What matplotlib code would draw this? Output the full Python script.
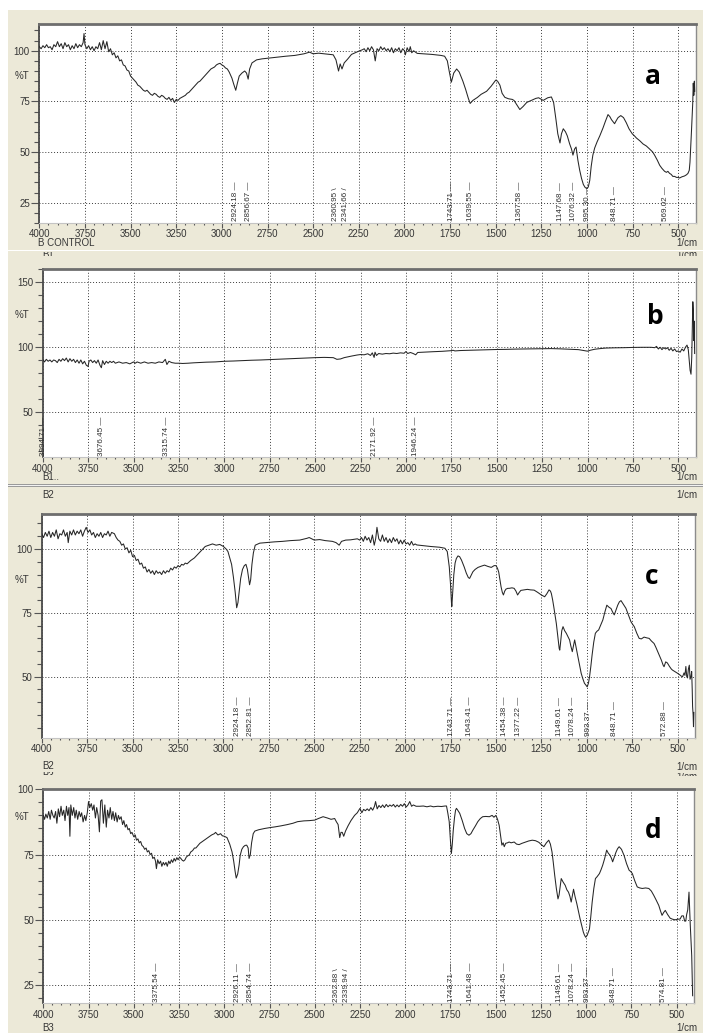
import matplotlib
matplotlib.use("Agg")
import matplotlib.pyplot as plt
from matplotlib.patches import Rectangle
from matplotlib.transforms import Bbox, TransformedBbox
from matplotlib.ticker import MultipleLocator, FixedLocator
import numpy as np

# ---------------- data (wavenumber 1/cm, %T) ----------------
spectrum_a = [
    (4000, 102), (3990, 101), (3980, 102.5), (3970, 101.5), (3960, 103), (3950, 101.5), (3940, 102),
    (3930, 100.5), (3920, 103), (3910, 102), (3900, 104.5), (3890, 102), (3880, 103.5), (3870, 101),
    (3860, 104), (3850, 102), (3840, 103), (3830, 100.5), (3820, 102.5), (3810, 101), (3800, 103.5),
    (3790, 101.5), (3780, 103), (3770, 102), (3760, 104), (3755, 108.5), (3750, 103), (3740, 101),
    (3730, 102.5), (3720, 100.5), (3710, 102), (3700, 100), (3690, 102), (3680, 101), (3670, 104),
    (3660, 100.5), (3650, 105), (3640, 101), (3630, 104.5), (3620, 99.5), (3610, 101), (3600, 98),
    (3590, 99), (3580, 96.5), (3570, 97.5), (3560, 95), (3550, 95.5), (3540, 93), (3530, 92.5),
    (3520, 90.5), (3510, 90), (3500, 87.5), (3490, 86.5), (3480, 85.5), (3470, 84.5), (3460, 83),
    (3450, 82.5), (3440, 81.5), (3430, 80.5), (3420, 80), (3410, 80.5), (3400, 79.5), (3390, 78.5),
    (3380, 78), (3370, 79), (3360, 78.5), (3350, 77.5), (3340, 77), (3330, 78), (3320, 77.5),
    (3310, 76.5), (3300, 76), (3290, 77), (3280, 75.5), (3270, 76.5), (3260, 74.5), (3250, 76),
    (3240, 75.5), (3230, 76.5), (3220, 77), (3210, 77.5), (3200, 78), (3190, 79), (3180, 79.5),
    (3170, 80.5), (3160, 81.5), (3150, 82.5), (3140, 83.5), (3130, 84.5), (3120, 85), (3110, 86),
    (3100, 87), (3090, 88), (3080, 89), (3070, 90), (3060, 91), (3050, 91.5), (3040, 92), (3030, 93),
    (3020, 93.5), (3010, 93.8), (3000, 93), (2990, 92.5), (2980, 91.5), (2970, 91), (2960, 89.5),
    (2945, 86.5), (2935, 83.5), (2924, 80.5), (2915, 84), (2905, 87.5), (2890, 89), (2875, 90),
    (2865, 89), (2856, 86), (2848, 91), (2835, 94), (2810, 95.5), (2780, 96), (2750, 96.3),
    (2700, 96.8), (2650, 97.3), (2600, 97.7), (2550, 98.5), (2520, 99.3), (2500, 98.5), (2470, 98.8),
    (2440, 98.5), (2410, 98.2), (2390, 98), (2375, 95.5), (2361, 90), (2352, 93.5), (2342, 91),
    (2330, 94), (2310, 96), (2290, 98.2), (2270, 99), (2250, 99.8), (2230, 100.5), (2220, 101),
    (2210, 99.5), (2200, 101.5), (2190, 100), (2180, 102), (2170, 100.5), (2160, 95), (2150, 101),
    (2140, 100), (2130, 102), (2120, 100.5), (2110, 101.5), (2100, 100), (2090, 101), (2080, 99.5),
    (2070, 101.5), (2060, 99), (2050, 101), (2040, 100), (2030, 101.5), (2020, 99), (2010, 101),
    (2000, 100), (1995, 98), (1985, 101.5), (1975, 99.5), (1968, 102), (1960, 99), (1950, 100),
    (1930, 98.7), (1900, 98.5), (1850, 98.2), (1800, 97.7), (1780, 97.3), (1765, 95), (1755, 90),
    (1743, 84.5), (1730, 89), (1714, 91), (1700, 89.5), (1680, 85), (1665, 81), (1650, 76.5),
    (1640, 74), (1625, 75.5), (1600, 77), (1580, 78.5), (1550, 80), (1525, 82.5), (1500, 85.5),
    (1490, 85), (1477, 83), (1465, 79), (1450, 77), (1430, 76.3), (1410, 76), (1400, 75.5),
    (1386, 73.5), (1368, 71), (1350, 72.5), (1330, 74.5), (1305, 75.5), (1280, 76.5), (1265, 76.8),
    (1240, 75.5), (1215, 76.8), (1195, 77.2), (1183, 74.5), (1170, 66), (1160, 59), (1148, 54.5),
    (1140, 59), (1130, 61.5), (1118, 60), (1108, 58), (1095, 54), (1085, 51.5), (1077, 48.5),
    (1068, 51.5), (1060, 52.5), (1050, 46), (1040, 41), (1030, 37), (1020, 34), (1010, 32.5),
    (1000, 32), (993, 32.8), (985, 36), (977, 43), (968, 48.5), (958, 52), (945, 55), (930, 58),
    (912, 62), (900, 65), (885, 68.5), (875, 67.5), (866, 66), (849, 64), (840, 65.5), (830, 67),
    (815, 68), (800, 67), (785, 64.5), (770, 61.5), (752, 59), (740, 58), (730, 57), (710, 55.5),
    (693, 54), (675, 53), (657, 51.5), (640, 50), (630, 48.5), (615, 46), (602, 43.5), (590, 42),
    (575, 40.5), (565, 40), (557, 40.5), (548, 39.5), (539, 39), (530, 38), (520, 38), (510, 37.5),
    (500, 37.5), (493, 37.2), (480, 37.8), (466, 38.2), (455, 38.8), (447, 39.5), (440, 41),
    (436, 45), (432, 52), (428, 60), (424, 68), (421, 74), (418, 84), (415, 78), (412, 85), (410, 80),
]

spectrum_b = [
    (4000, 90.5), (3990, 88.5), (3980, 90.5), (3970, 89), (3960, 90), (3950, 88.5), (3940, 90),
    (3930, 89.5), (3920, 88), (3910, 90.5), (3900, 89), (3890, 91), (3880, 89.5), (3870, 91.5),
    (3860, 88.5), (3850, 91), (3840, 89), (3830, 90.5), (3820, 88), (3810, 90), (3800, 87.5),
    (3790, 90), (3780, 87), (3770, 89), (3760, 86), (3750, 85), (3745, 89), (3735, 90), (3725, 88),
    (3715, 89.5), (3705, 87.5), (3695, 90), (3685, 86), (3677, 84), (3670, 89.5), (3660, 86.5),
    (3650, 89), (3640, 87.5), (3630, 89), (3620, 88), (3610, 89), (3600, 87.5), (3580, 88.5),
    (3560, 87.5), (3540, 88), (3520, 87), (3500, 88.5), (3490, 87.5), (3480, 88.5), (3460, 87.5),
    (3440, 88.5), (3420, 87.5), (3400, 88), (3380, 87.5), (3360, 88.5), (3340, 88), (3325, 90.5),
    (3316, 86.5), (3305, 89), (3290, 88), (3270, 87.5), (3250, 87.5), (3230, 87.3), (3200, 87.5),
    (3170, 87.8), (3140, 88), (3100, 88.3), (3050, 88.5), (3000, 89), (2950, 89.2), (2900, 89.5),
    (2850, 89.8), (2800, 90), (2750, 90.3), (2700, 90.6), (2650, 90.9), (2600, 91.2), (2550, 91.5),
    (2500, 91.8), (2450, 92), (2400, 91.8), (2380, 90.5), (2360, 90.8), (2340, 91.8), (2300, 93),
    (2270, 93.8), (2250, 94.2), (2230, 94), (2210, 94.8), (2195, 93.5), (2185, 95.5), (2175, 92),
    (2170, 96), (2162, 93.5), (2150, 95), (2130, 94.5), (2110, 95), (2090, 94.8), (2070, 95.3),
    (2050, 95), (2030, 95.5), (2010, 95.2), (2000, 96.5), (1990, 95), (1975, 95.8), (1960, 95),
    (1946, 94), (1935, 95.8), (1910, 96), (1880, 96.2), (1850, 96.4), (1800, 96.7), (1750, 97.2),
    (1740, 97.5), (1730, 97), (1700, 97.3), (1650, 97.5), (1600, 97.7), (1550, 97.9), (1500, 98.1),
    (1450, 98.2), (1400, 98.4), (1350, 98.5), (1300, 98.6), (1250, 98.7), (1200, 98.8), (1150, 98.6),
    (1100, 98.3), (1050, 98), (1020, 97.3), (1000, 96.8), (985, 97.5), (960, 98.3), (930, 98.8),
    (900, 99.2), (850, 99.4), (800, 99.5), (750, 99.7), (700, 99.8), (650, 99.8), (630, 99.5),
    (620, 100.5), (610, 98.5), (600, 99.8), (590, 98), (580, 99.5), (570, 98.5), (560, 99.5),
    (550, 97.5), (540, 99), (530, 97), (520, 98.5), (510, 96.5), (500, 97), (490, 96), (480, 98.5),
    (470, 97), (460, 100), (452, 101.5), (445, 98), (440, 90), (435, 82), (430, 79), (426, 92),
    (422, 120), (420, 135), (417, 128), (415, 105), (412, 120), (410, 95),
]

spectrum_c = [
    (4000, 106), (3990, 104.5), (3980, 106.5), (3970, 105), (3960, 107), (3950, 104.5), (3940, 106.5),
    (3930, 105), (3920, 107.5), (3910, 104), (3900, 106), (3890, 105.5), (3880, 107.5), (3870, 105),
    (3860, 106.5), (3854, 102.5), (3845, 107), (3835, 105.5), (3825, 107.5), (3815, 105.5),
    (3805, 107), (3795, 106), (3785, 107.5), (3775, 105), (3765, 107), (3755, 108.5), (3745, 106.5),
    (3735, 107.5), (3725, 105.5), (3715, 106.5), (3705, 104.5), (3695, 106), (3685, 105),
    (3675, 106.5), (3665, 104.5), (3655, 106), (3645, 105.5), (3635, 107), (3625, 105),
    (3615, 106.5), (3600, 106), (3590, 104.5), (3580, 103.5), (3570, 103), (3560, 101.5),
    (3550, 102), (3540, 100), (3530, 100.5), (3520, 98.5), (3510, 99.5), (3500, 97), (3490, 97.5),
    (3480, 95.5), (3470, 96), (3460, 94), (3450, 94.5), (3440, 92.5), (3430, 93), (3420, 91),
    (3410, 92), (3400, 90.5), (3390, 91.5), (3380, 90), (3370, 91.5), (3360, 90.5), (3350, 91),
    (3340, 90), (3330, 91.5), (3320, 90.5), (3310, 91.5), (3300, 91), (3290, 92.5), (3280, 91.8),
    (3270, 93), (3260, 92.5), (3250, 93.5), (3240, 93), (3230, 94), (3220, 93.7), (3210, 94.5),
    (3200, 94.2), (3180, 95.5), (3160, 96.5), (3140, 98), (3120, 99.5), (3100, 101), (3080, 101.5),
    (3060, 102), (3040, 101.5), (3020, 101.8), (3000, 101), (2985, 100), (2975, 99), (2965, 96.5),
    (2955, 94), (2945, 89), (2935, 83), (2927, 77), (2920, 79), (2913, 83.5), (2905, 88.5),
    (2895, 92), (2885, 93.5), (2876, 94), (2868, 92), (2862, 89), (2856, 86), (2850, 88),
    (2843, 94), (2835, 98.5), (2825, 101.5), (2800, 102.3), (2770, 102.5), (2720, 102.8),
    (2675, 103), (2630, 103.3), (2580, 103.5), (2540, 104.2), (2528, 104.5), (2500, 103.5),
    (2470, 103.7), (2440, 103.3), (2400, 103), (2380, 102.5), (2363, 101.5), (2350, 103),
    (2327, 103.5), (2300, 103.6), (2280, 103.8), (2263, 104), (2250, 103.5), (2240, 104.5),
    (2230, 103), (2220, 105), (2210, 103.5), (2200, 104.5), (2190, 102.5), (2180, 105.5),
    (2170, 101.5), (2162, 104), (2155, 108.5), (2145, 104), (2135, 103), (2125, 105.5), (2115, 103),
    (2105, 104.5), (2095, 102.5), (2085, 104), (2075, 102.5), (2065, 104.5), (2055, 103), (2045, 104),
    (2035, 102), (2025, 103.5), (2015, 102), (2005, 103.5), (1995, 102), (1985, 102.5), (1975, 101.5),
    (1965, 103), (1955, 101.5), (1945, 102), (1936, 101.6), (1900, 101.3), (1860, 101), (1845, 100.9),
    (1810, 100.7), (1781, 100.3), (1768, 99), (1757, 93), (1750, 86), (1745, 79), (1743, 77.5),
    (1738, 83), (1732, 90), (1725, 94.5), (1718, 96.3), (1709, 97.3), (1700, 97), (1690, 95.7),
    (1675, 93), (1663, 90.5), (1652, 88.8), (1645, 88.5), (1635, 90), (1627, 91.1), (1615, 92),
    (1599, 92.8), (1580, 93.3), (1563, 93.7), (1545, 93.2), (1526, 92.8), (1510, 93.5), (1500, 93.5),
    (1492, 92.5), (1485, 91), (1478, 88), (1472, 85.2), (1465, 83), (1459, 82), (1452, 83.5),
    (1445, 84.3), (1435, 84.6), (1427, 84.6), (1412, 84.8), (1400, 84.6), (1390, 83.5), (1381, 82),
    (1372, 83), (1363, 83.8), (1345, 84), (1327, 84.2), (1310, 84), (1290, 83.9), (1270, 83),
    (1250, 82), (1232, 81.3), (1220, 82.5), (1208, 84), (1200, 83.5), (1195, 82.5), (1188, 80),
    (1182, 77.4), (1175, 74), (1168, 70.9), (1160, 66), (1152, 61), (1149, 60.4), (1145, 63),
    (1138, 68), (1131, 69.6), (1122, 68), (1113, 67), (1104, 65.7), (1095, 64.4), (1088, 62),
    (1080, 59.8), (1074, 62), (1067, 64.4), (1058, 61), (1049, 57.8), (1040, 54.5), (1031, 51.3),
    (1022, 49.2), (1013, 47.4), (1005, 46.7), (998, 46), (991, 47.5), (985, 50), (978, 54),
    (971, 58.5), (962, 63.5), (953, 67), (944, 67.8), (935, 68.3), (923, 70.3), (912, 72.2),
    (900, 75.5), (890, 78), (878, 77.2), (867, 76.7), (858, 75.3), (849, 74.2), (840, 76), (830, 78),
    (821, 79.3), (812, 79.8), (800, 78.5), (785, 76.8), (770, 74), (757, 71.5), (748, 70.5),
    (739, 69.6), (725, 67), (712, 65), (700, 64.8), (685, 65.5), (670, 65.2), (657, 65), (645, 64),
    (630, 63), (620, 61.5), (610, 59.8), (602, 58.5), (590, 56.5), (580, 54.5), (575, 53.9),
    (566, 55.8), (557, 55.4), (545, 54), (535, 53), (529, 52.6), (520, 52.2), (510, 51.8),
    (500, 51.3), (490, 50.8), (480, 50.2), (473, 50), (465, 51.5), (460, 50.5), (455, 54), (450, 50),
    (446, 49.5), (441, 53), (436, 54.5), (432, 49), (427, 50), (423, 52), (420, 45), (418, 38.3),
    (415, 35), (413, 30.4), (411, 36),
]

spectrum_d = [
    (4000, 90), (3993, 88.5), (3986, 90.5), (3978, 89), (3970, 91.5), (3962, 88.5), (3955, 92),
    (3947, 90), (3940, 89), (3932, 91.5), (3925, 87), (3917, 92.5), (3910, 89.5), (3902, 93.5),
    (3895, 90), (3887, 92), (3880, 88), (3872, 93.5), (3865, 90), (3858, 93), (3853, 82), (3848, 94),
    (3840, 90), (3832, 93), (3825, 89), (3818, 92), (3810, 88.5), (3802, 91.5), (3795, 89.5),
    (3788, 91), (3780, 87.5), (3772, 90), (3765, 88), (3757, 91), (3750, 95.3), (3743, 93),
    (3735, 94.5), (3727, 92), (3720, 94), (3712, 89), (3705, 93), (3697, 90), (3690, 83.7),
    (3683, 95.5), (3676, 96), (3668, 87), (3660, 94), (3652, 85.5), (3645, 92), (3637, 89),
    (3630, 93), (3622, 88.5), (3615, 91.5), (3607, 88), (3600, 91), (3592, 87.5), (3585, 90),
    (3578, 88.5), (3570, 89.5), (3562, 86.5), (3555, 88), (3547, 85.5), (3540, 86.5), (3532, 84.5),
    (3525, 85), (3517, 83), (3510, 83.5), (3500, 81.8), (3492, 82.5), (3485, 80.5), (3477, 81),
    (3470, 79.5), (3462, 80), (3455, 78.5), (3447, 78), (3440, 77), (3432, 77.5), (3425, 76),
    (3417, 76.5), (3410, 75), (3402, 75.5), (3395, 73.5), (3387, 74), (3380, 72.5), (3375, 69.6),
    (3368, 73), (3360, 71.5), (3352, 72.5), (3345, 70.5), (3337, 72), (3330, 71), (3322, 72),
    (3315, 70.5), (3307, 72.5), (3300, 71.5), (3292, 73), (3285, 72), (3277, 73.5), (3270, 72.5),
    (3262, 73.8), (3255, 73), (3247, 74), (3240, 73.5), (3232, 72.8), (3225, 72.5), (3217, 73),
    (3210, 74), (3202, 74.5), (3194, 74.8), (3185, 76), (3175, 76.5), (3165, 77.5), (3157, 77.5),
    (3145, 78.5), (3135, 79.3), (3121, 80), (3110, 80.5), (3100, 81), (3085, 81.8), (3070, 82.5),
    (3055, 83), (3048, 83.5), (3035, 82.5), (3020, 83), (3011, 82.2), (3000, 82), (2985, 81.5),
    (2970, 79), (2957, 76), (2948, 72.5), (2940, 68.5), (2934, 66), (2926, 67.5), (2918, 71),
    (2912, 74.7), (2903, 77), (2894, 78), (2885, 78.5), (2876, 78.6), (2868, 77.5), (2863, 73.5),
    (2856, 75), (2849, 79.5), (2840, 83), (2831, 84), (2810, 84.5), (2776, 85), (2750, 85.3),
    (2720, 85.6), (2686, 86), (2650, 86.5), (2620, 87), (2595, 87.6), (2560, 87.9), (2530, 88),
    (2500, 88.2), (2480, 88.8), (2454, 89.5), (2430, 89), (2410, 88.5), (2390, 88.8), (2380, 87.5),
    (2371, 86.5), (2362, 81.5), (2355, 83.5), (2348, 83.5), (2340, 82), (2330, 84), (2316, 86),
    (2300, 88), (2280, 90), (2265, 91), (2250, 92.7), (2240, 91), (2230, 92.3), (2220, 91.8),
    (2210, 92.5), (2200, 91.8), (2190, 93), (2180, 92), (2170, 93.5), (2164, 95.3), (2155, 92.5),
    (2145, 93.8), (2135, 93), (2125, 94), (2115, 93), (2105, 94.2), (2095, 93.3), (2085, 94),
    (2075, 93.5), (2065, 94.2), (2055, 93.2), (2045, 94), (2035, 93.3), (2025, 94.2), (2015, 93.5),
    (2005, 94.5), (1995, 93.2), (1985, 94), (1975, 95.3), (1965, 93.5), (1955, 94), (1940, 93.5),
    (1920, 93.5), (1900, 93.6), (1880, 93.3), (1860, 93.6), (1845, 93.3), (1820, 93.5), (1800, 93.4),
    (1780, 93.6), (1772, 93.6), (1765, 91), (1757, 87.6), (1750, 80), (1745, 75.4), (1740, 79),
    (1735, 84), (1728, 89), (1722, 92), (1717, 92.7), (1710, 92), (1699, 90.8), (1685, 88),
    (1672, 85), (1660, 83), (1648, 82.4), (1637, 83), (1626, 84.4), (1612, 86), (1599, 87.6),
    (1585, 88.8), (1572, 89.5), (1555, 89.6), (1535, 89.5), (1520, 90), (1510, 89.3), (1499, 90),
    (1490, 88.5), (1481, 86.2), (1473, 82), (1466, 78.6), (1459, 79.5), (1453, 78), (1445, 79.3),
    (1435, 79.5), (1426, 79.8), (1415, 79.5), (1398, 79.8), (1385, 79), (1371, 78.8), (1355, 79.3),
    (1335, 79.8), (1318, 80.2), (1298, 80.5), (1280, 80.3), (1262, 79.7), (1248, 78.8), (1234, 78),
    (1220, 79.5), (1207, 80.5), (1198, 79), (1189, 76), (1182, 72), (1174, 67), (1165, 62),
    (1156, 58), (1150, 59.5), (1145, 62), (1138, 65.8), (1128, 64.5), (1116, 63.2), (1107, 61.5),
    (1098, 60.6), (1090, 59), (1083, 56.8), (1077, 59), (1070, 61.7), (1062, 59), (1052, 56.2),
    (1043, 53.3), (1034, 50.4), (1025, 47.8), (1016, 45.3), (1010, 44.2), (1003, 43.3), (995, 44),
    (990, 45), (982, 46.5), (975, 51), (967, 56.8), (958, 62), (949, 65.8), (940, 66.5), (927, 67.7),
    (918, 69.2), (909, 70.9), (898, 73.5), (887, 76.7), (878, 75.5), (869, 74.8), (860, 73.5),
    (854, 72.2), (845, 74), (836, 75.8), (827, 77.2), (818, 78), (805, 77), (791, 74.7), (777, 71.5),
    (763, 69), (754, 68.5), (745, 67.7), (732, 65), (718, 62.6), (704, 62.2), (690, 62), (672, 62.2),
    (654, 62), (640, 61), (627, 59.4), (613, 57.5), (599, 55.5), (590, 53.5), (581, 51.7),
    (572, 52.8), (563, 53.6), (550, 52), (536, 50.6), (522, 50.2), (509, 50), (495, 50.2),
    (481, 50.3), (472, 51.5), (463, 51.5), (456, 49.5), (450, 49.5), (445, 52), (439, 53.8),
    (435, 58), (432, 60.6), (429, 55), (425, 48), (421, 42), (417, 36.3), (414, 28), (412, 20.9),
]

peaks_a = [2924.18, 2856.67, 2360.95, 2341.66, 1743.71, 1639.55, 1367.58, 1147.68, 1076.32,
           995.30, 848.71, 569.02]
peaks_b = [3994.71, 3676.45, 3315.74, 2171.92, 1946.24]
peaks_c = [2924.18, 2852.81, 1743.71, 1643.41, 1454.38, 1377.22, 1149.61, 1078.24, 993.37,
           848.71, 572.88]
peaks_d = [3375.54, 2926.11, 2854.74, 2362.88, 2339.94, 1743.71, 1641.48, 1452.45, 1149.61,
           1078.24, 993.37, 848.71, 574.81]

x_ticks = [4000, 3750, 3500, 3250, 3000, 2750, 2500, 2250, 2000, 1750, 1500, 1250, 1000, 750, 500]
panel_letters = ["a", "b", "c", "d"]
sample_names = ["B CONTROL", "B1..", "B2", "B3"]
y_major = {"a": [25, 50, 75, 100], "b": [50, 100, 150], "c": [50, 75, 100], "d": [25, 50, 75, 100]}
y_minor_step = {"a": 5, "b": 10, "c": 5, "d": 5}

# ---------------- layout (pixels) ----------------
W, H = 703, 1033
X_RIGHT = 405
BEIGE = "#ECE9D8"
TXT = "#363636"
FONT = "Liberation Sans"

fig = plt.figure(figsize=(W / 100, H / 100), dpi=100)
fig.patch.set_facecolor("white")


def fx(x):
    return x / W


def fy(y):
    return 1 - y / H


def rect_px(x0, y0, x1, y1, color, z=0):
    fig.add_artist(Rectangle((fx(x0), fy(y1)), (x1 - x0) / W, (y1 - y0) / H,
                             transform=fig.transFigure, facecolor=color, edgecolor="none",
                             zorder=z))


def text_px(x, y, s, ha="left", clip=None, size=7.0, **kw):
    t = fig.text(fx(x), fy(y), s, ha=ha, va="center", fontsize=size, color=TXT,
                 family=FONT, **kw)
    if clip is not None:
        y0, y1 = clip
        bb = TransformedBbox(Bbox.from_extents(0, fy(y1), 1, fy(y0)), fig.transFigure)
        t.set_clip_box(bb)
        t.set_clip_on(True)
    return t


# beige window backgrounds
rect_px(8, 10, W, 249.5, BEIGE)
rect_px(8, 251, W, 484, BEIGE)
rect_px(8, 484, W, 487, "#9a9a9a")
rect_px(8, 485.2, W, 486.0, "#f2f2f2")
rect_px(8, 487, W, H, BEIGE)

layout = {
    "a": dict(left=39.3, top=24.0, bottom=223.0, scale=0.18257, ylim=(15.0, 113.2),
              pct=(15, 76), letter=(653, 77)),
    "b": dict(left=42.7, top=269.0, bottom=457.3, scale=0.1816, ylim=(14.8, 160.3),
              pct=(15, 315), letter=(655, 317)),
    "c": dict(left=41.7, top=514.3, bottom=737.7, scale=0.18171, ylim=(26.1, 113.6),
              pct=(15, 580), letter=(652, 577)),
    "d": dict(left=43.3, top=789.3, bottom=1003.3, scale=0.18097, ylim=(18.0, 100.0),
              pct=(15, 817), letter=(653, 830)),
}
spectra = {"a": spectrum_a, "b": spectrum_b, "c": spectrum_c, "d": spectrum_d}
peaks = {"a": peaks_a, "b": peaks_b, "c": peaks_c, "d": peaks_d}

PX2PT = 0.72

for key, letter in zip(["a", "b", "c", "d"], panel_letters):
    L = layout[key]
    width = (4000 - X_RIGHT) * L["scale"]
    ax = fig.add_axes([fx(L["left"]), fy(L["bottom"]), width / W, (L["bottom"] - L["top"]) / H])
    ax.set_facecolor("white")
    wn, tr = zip(*spectra[key])
    ax.plot(wn, tr, color="#262626", lw=0.75, zorder=3)
    ax.set_xlim(4000, X_RIGHT)
    ax.set_ylim(*L["ylim"])

    ax.xaxis.set_major_locator(FixedLocator(x_ticks))
    ax.xaxis.set_minor_locator(MultipleLocator(50))
    ax.set_xticklabels([str(v) for v in x_ticks])
    ax.yaxis.set_major_locator(FixedLocator(y_major[key]))
    ax.yaxis.set_minor_locator(MultipleLocator(y_minor_step[key]))
    ax.set_yticklabels([str(v) for v in y_major[key]])
    ax.tick_params(axis="x", which="major", direction="out", length=3.5, width=0.8,
                   color="#555555", pad=1.0, labelsize=7.0, labelcolor=TXT)
    ax.tick_params(axis="x", which="minor", direction="out", length=1.6, width=0.8,
                   color="#555555")
    ax.tick_params(axis="y", which="major", direction="out", length=5.8, width=0.8,
                   color="#555555", pad=1.0, labelsize=7.0, labelcolor=TXT)
    ax.tick_params(axis="y", which="minor", direction="out", length=3.6, width=0.8,
                   color="#555555")
    for lab in ax.get_xticklabels() + ax.get_yticklabels():
        lab.set_family(FONT)

    ax.grid(which="major", axis="both", color="#3a3a3a", linestyle=(0, (1, 2)),
            linewidth=0.7, zorder=1)
    ax.set_axisbelow(True)

    ax.spines["left"].set_color("#4a4a4a")
    ax.spines["left"].set_linewidth(1.3)
    ax.spines["top"].set_color("#6e6e6e")
    ax.spines["top"].set_linewidth(2.0)
    ax.spines["right"].set_color("#8c8c8c")
    ax.spines["right"].set_linewidth(1.0)
    ax.spines["bottom"].set_color("#c4c4c4")
    ax.spines["bottom"].set_linewidth(0.8)

    # peak labels (rotated), spread apart when too close
    pk = sorted(peaks[key], reverse=True)
    pos = [(4000 - p) * L["scale"] for p in pk]
    new = list(pos)
    mark = [" \u2014"] * len(pk)
    i = 0
    while i < len(pk) - 1:
        if pos[i + 1] - pos[i] < 9:
            c = (pos[i] + pos[i + 1]) / 2
            new[i], new[i + 1] = c - 5, c + 5
            mark[i], mark[i + 1] = " \\", " /"
            i += 2
        else:
            i += 1
    for p, p0, p1, m in zip(pk, pos, new, mark):
        ax.annotate(f"{p:.2f}{m}", xy=(p, 0), xycoords=("data", "axes fraction"),
                    xytext=((p1 - p0) * PX2PT, 1.2), textcoords="offset points",
                    rotation=90, ha="center", va="bottom", fontsize=5.8, color="#2e2e2e",
                    family=FONT, zorder=4, annotation_clip=False)

    # %T label and panel letter
    text_px(L["pct"][0], L["pct"][1], "%T")
    fig.text(fx(L["letter"][0]), fy(L["letter"][1]), letter, ha="center", va="center",
             fontsize=19, fontweight="bold", family="Open Sans", color="black", zorder=10)

# window captions
text_px(38, 243.5, sample_names[0])
text_px(697, 243.5, "1/cm", ha="right")
text_px(42, 255.5, sample_names[1], clip=(252, 255.5))
text_px(697, 255.5, "1/cm", ha="right", clip=(252, 255.5))
text_px(42, 477, sample_names[1])
text_px(697, 477, "1/cm", ha="right")
text_px(42, 495, sample_names[2])
text_px(697, 495, "1/cm", ha="right")
text_px(42, 766, sample_names[2])
text_px(42, 776, sample_names[3], clip=(772, 775))
text_px(697, 767, "1/cm", ha="right")
text_px(697, 777, "1/cm", ha="right", clip=(773, 776))
text_px(42, 1028, sample_names[3])
text_px(697, 1028, "1/cm", ha="right")

fig.savefig("out.png", dpi=100, facecolor="white")
